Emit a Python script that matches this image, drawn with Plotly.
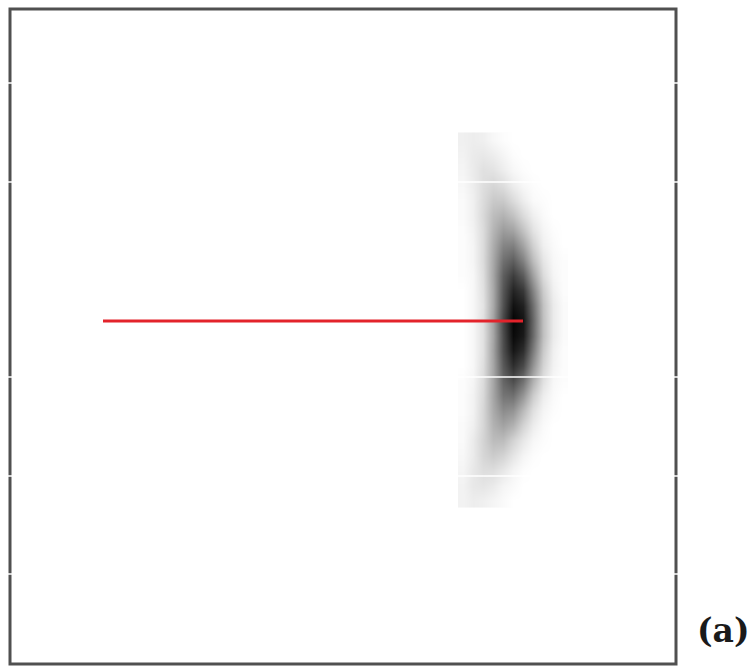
import plotly.graph_objects as go

# ---- data (plot units: x right from frame's left edge, y up from frame's bottom edge) ----
x_range = [0, 666]
y_range = [0, 655]

# heatmap grid: column centres and row centres (top row first)
col_x = [453, 463, 473, 483, 493, 503, 513, 523, 533, 543, 553]
row_y = [524, 509, 494, 479, 464, 449, 434, 419, 404, 389, 374, 359, 344,
         329, 314, 299, 284, 269, 254, 239, 224, 209, 194, 179, 164]

density = [
    [0.06, 0.07, 0.06, 0.03, 0.01, 0.00, 0.00, 0.00, 0.00, 0.00, 0.00],
    [0.05, 0.08, 0.09, 0.07, 0.04, 0.01, 0.00, 0.00, 0.00, 0.00, 0.00],
    [0.04, 0.08, 0.12, 0.11, 0.07, 0.03, 0.01, 0.00, 0.00, 0.00, 0.00],
    [0.03, 0.07, 0.13, 0.16, 0.13, 0.07, 0.03, 0.01, 0.00, 0.00, 0.00],
    [0.02, 0.06, 0.14, 0.21, 0.21, 0.14, 0.07, 0.02, 0.01, 0.00, 0.00],
    [0.02, 0.06, 0.15, 0.26, 0.30, 0.24, 0.14, 0.06, 0.02, 0.00, 0.00],
    [0.01, 0.05, 0.14, 0.29, 0.39, 0.36, 0.24, 0.11, 0.04, 0.01, 0.00],
    [0.01, 0.04, 0.14, 0.32, 0.48, 0.50, 0.36, 0.18, 0.06, 0.02, 0.00],
    [0.01, 0.04, 0.14, 0.34, 0.56, 0.63, 0.49, 0.26, 0.10, 0.03, 0.01],
    [0.01, 0.03, 0.13, 0.35, 0.63, 0.76, 0.64, 0.37, 0.14, 0.04, 0.01],
    [0.00, 0.03, 0.12, 0.34, 0.66, 0.86, 0.78, 0.48, 0.20, 0.06, 0.01],
    [0.00, 0.03, 0.11, 0.34, 0.68, 0.93, 0.87, 0.56, 0.24, 0.08, 0.02],
    [0.00, 0.03, 0.12, 0.36, 0.72, 0.98, 0.92, 0.59, 0.25, 0.08, 0.02],
    [0.00, 0.03, 0.12, 0.35, 0.70, 0.96, 0.90, 0.58, 0.25, 0.08, 0.02],
    [0.00, 0.03, 0.12, 0.36, 0.69, 0.91, 0.82, 0.51, 0.21, 0.06, 0.01],
    [0.00, 0.03, 0.13, 0.35, 0.65, 0.82, 0.71, 0.42, 0.17, 0.05, 0.01],
    [0.01, 0.04, 0.14, 0.35, 0.60, 0.70, 0.56, 0.31, 0.12, 0.03, 0.01],
    [0.01, 0.05, 0.15, 0.35, 0.54, 0.56, 0.41, 0.20, 0.07, 0.02, 0.00],
    [0.01, 0.05, 0.16, 0.33, 0.45, 0.42, 0.27, 0.12, 0.04, 0.01, 0.00],
    [0.02, 0.06, 0.16, 0.30, 0.36, 0.30, 0.17, 0.07, 0.02, 0.00, 0.00],
    [0.02, 0.08, 0.17, 0.26, 0.26, 0.17, 0.09, 0.03, 0.01, 0.00, 0.00],
    [0.03, 0.08, 0.16, 0.20, 0.17, 0.10, 0.04, 0.01, 0.00, 0.00, 0.00],
    [0.04, 0.09, 0.13, 0.13, 0.09, 0.04, 0.01, 0.00, 0.00, 0.00, 0.00],
    [0.05, 0.09, 0.10, 0.08, 0.04, 0.02, 0.00, 0.00, 0.00, 0.00, 0.00],
    [0.05, 0.07, 0.06, 0.04, 0.02, 0.00, 0.00, 0.00, 0.00, 0.00, 0.00],
]

# red measurement ray
ray_x = [93, 513]
ray_y = [343, 343]

# thin white seam lines crossing the picture
seam_y = [581, 482, 287, 188, 90]

panel_label = "(a)"

# ---- figure ----
fig = go.Figure()

fig.add_trace(go.Heatmap(
    x=col_x, y=row_y, z=density,
    zmin=0, zmax=1, zsmooth="best",
    colorscale=[[0, "rgb(255,255,255)"], [1, "rgb(0,0,0)"]],
    showscale=False, hoverinfo="skip",
))

fig.add_trace(go.Scatter(
    x=ray_x, y=ray_y, mode="lines",
    line=dict(color="#e3232b", width=3),
    hoverinfo="skip", showlegend=False,
))

shapes = [dict(type="rect", xref="paper", yref="paper", x0=0, x1=1, y0=0, y1=1,
               line=dict(color="#505050", width=3), layer="above")]
for sy in seam_y:
    shapes.append(dict(type="line", xref="paper", yref="y", x0=-0.01, x1=1.01,
                       y0=sy, y1=sy, line=dict(color="white", width=1.5),
                       layer="above"))

fig.update_layout(
    width=755, height=666,
    margin=dict(l=10, r=79, t=9, b=2),
    paper_bgcolor="white", plot_bgcolor="white",
    showlegend=False,
    xaxis=dict(range=x_range, visible=False, fixedrange=True),
    yaxis=dict(range=y_range, visible=False, fixedrange=True),
    shapes=shapes,
    annotations=[dict(
        text="<b>" + panel_label + "</b>", xref="paper", yref="paper",
        x=(723 - 10) / 666, y=(664 - 630) / 655, xanchor="center", yanchor="middle",
        showarrow=False, font=dict(family="DejaVu Serif", size=33, color="#1a1a1a"),
    )],
)

fig.write_html(
    "out.html",
    config={"displayModeBar": False},
    post_script="document.body.style.margin='0px';document.body.style.overflow='hidden';",
)
